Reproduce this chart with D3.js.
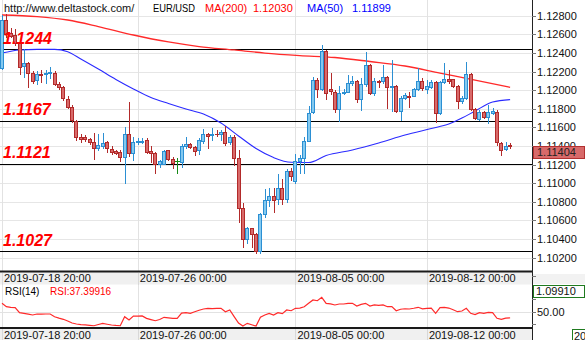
<!DOCTYPE html>
<html>
<head>
<meta charset="utf-8">
<script src="https://cdn.jsdelivr.net/npm/d3@7"></script>
<style>
  html, body { margin: 0; padding: 0; background: #fff; }
  svg { display: block; }
  text { font-family: "Liberation Sans", Arial, sans-serif; }
</style>
</head>
<body>
<svg id="chart" width="585" height="340"></svg>
<script>
// EUR/USD, 4-hour candles
const opens = [
  1.12238,1.12754,1.12614,1.12593,1.12507,1.12260,1.12292,1.12184,1.12109,1.12179,
  1.12179,1.12184,1.12184,1.12066,1.12029,1.11910,1.11824,1.11669,1.11502,1.11497,
  1.11475,1.11438,1.11379,1.11400,1.11443,1.11373,1.11346,1.11336,1.11287,1.11534,
  1.11322,1.11443,1.11448,1.11465,1.11346,1.11322,1.11212,1.11212,1.11352,1.11257,
  1.11234,1.11223,1.11395,1.11418,1.11393,1.11357,1.11457,1.11529,1.11518,1.11534,
  1.11524,1.11547,1.11438,1.11500,1.11268,1.10731,1.10398,1.10516,1.10451,1.10275,
  1.10670,1.10820,1.10868,1.10831,1.10946,1.10831,1.11132,1.11027,1.11239,1.11268,
  1.11457,1.11762,1.12109,1.12009,1.12421,1.12018,1.11984,1.11798,1.11969,1.11984,
  1.12080,1.12102,1.11902,1.12063,1.12270,1.11966,1.12102,1.12098,1.12141,1.12039,
  1.12045,1.11776,1.11913,1.11940,1.11940,1.12009,1.12102,1.12009,1.12037,1.12084,
  1.11751,1.12084,1.12117,1.12117,1.12048,1.11889,1.11913,1.12174,1.11794,1.11695,
  1.11765,1.11708,1.11760,1.11765,1.11432,1.11365,1.11410
];
const highs = [
  1.12808,1.12818,1.12668,1.12657,1.12528,1.12442,1.12303,1.12206,1.12206,1.12217,
  1.12217,1.12249,1.12201,1.12088,1.12045,1.11937,1.11841,1.11679,1.11529,1.11518,
  1.11491,1.11545,1.11529,1.11545,1.11459,1.11395,1.11362,1.11352,1.11604,1.11870,
  1.11502,1.11486,1.11491,1.11486,1.11400,1.11341,1.11255,1.11362,1.11362,1.11287,
  1.11271,1.11422,1.11502,1.11432,1.11405,1.11491,1.11588,1.11545,1.11599,1.11572,
  1.11567,1.11618,1.11518,1.11518,1.11362,1.10784,1.10533,1.10524,1.10465,1.10683,
  1.10941,1.10946,1.10954,1.11099,1.11046,1.11153,1.11160,1.11314,1.11303,1.11500,
  1.11830,1.12141,1.12131,1.12485,1.12432,1.12181,1.12002,1.12048,1.12013,1.12163,
  1.12152,1.12109,1.12131,1.12407,1.12281,1.12130,1.12109,1.12270,1.12152,1.12324,
  1.12056,1.11937,1.11969,1.11977,1.12023,1.12236,1.12131,1.12109,1.12109,1.12098,
  1.12104,1.12297,1.12222,1.12120,1.12056,1.11937,1.12303,1.12184,1.11808,1.11787,
  1.11776,1.11841,1.11808,1.11787,1.11443,1.11448,1.11429
];
const lows = [
  1.12227,1.12571,1.12571,1.12485,1.12174,1.12141,1.12034,1.12077,1.12066,1.12088,
  1.12077,1.12131,1.12056,1.12013,1.11894,1.11808,1.11663,1.11465,1.11448,1.11459,
  1.11427,1.11260,1.11362,1.11384,1.11336,1.11319,1.11319,1.11244,1.11003,1.11298,
  1.11250,1.11422,1.11432,1.11325,1.11228,1.11110,1.11180,1.11207,1.11250,1.11164,
  1.11113,1.11174,1.11384,1.11379,1.11303,1.11314,1.11432,1.11379,1.11470,1.11508,
  1.11465,1.11411,1.11422,1.11191,1.10587,1.10315,1.10353,1.10310,1.10251,1.10254,
  1.10637,1.10755,1.10691,1.10777,1.10777,1.10802,1.11035,1.11006,1.11113,1.11107,
  1.11454,1.11755,1.11930,1.12002,1.11905,1.11956,1.11769,1.11669,1.11959,1.11977,
  1.12056,1.11876,1.11787,1.12048,1.11956,1.11948,1.12034,1.12080,1.11805,1.11776,
  1.11765,1.11679,1.11905,1.11822,1.11937,1.12002,1.12002,1.11966,1.12023,1.11661,
  1.11744,1.12077,1.12077,1.12039,1.11805,1.11862,1.11905,1.11787,1.11690,1.11679,
  1.11701,1.11644,1.11744,1.11411,1.11303,1.11357,1.11379
];
const closes = [
  1.12754,1.12603,1.12587,1.12507,1.12249,1.12292,1.12184,1.12098,1.12174,1.12168,
  1.12184,1.12195,1.12066,1.12029,1.11916,1.11824,1.11679,1.11497,1.11475,1.11475,
  1.11443,1.11379,1.11411,1.11436,1.11379,1.11341,1.11330,1.11287,1.11534,1.11322,
  1.11446,1.11454,1.11459,1.11341,1.11322,1.11207,1.11239,1.11346,1.11257,1.11221,
  1.11234,1.11400,1.11418,1.11393,1.11350,1.11465,1.11529,1.11513,1.11529,1.11524,
  1.11547,1.11436,1.11500,1.11268,1.10731,1.10398,1.10516,1.10451,1.10275,1.10670,
  1.10820,1.10868,1.10820,1.10946,1.10831,1.11132,1.11081,1.11242,1.11268,1.11457,
  1.11758,1.12109,1.12009,1.12421,1.11966,1.11991,1.11798,1.11966,1.11980,1.12080,
  1.12102,1.11902,1.12063,1.12270,1.11966,1.12098,1.12091,1.12141,1.12037,1.12045,
  1.11776,1.11913,1.11948,1.11930,1.12009,1.12102,1.12020,1.12045,1.12084,1.11751,
  1.12084,1.12117,1.12104,1.12050,1.11887,1.11913,1.12174,1.11794,1.11706,1.11769,
  1.11708,1.11762,1.11771,1.11438,1.11362,1.11405,1.11404
];

// RSI(14), one value per candle
const rsiValues = [
  67.1,60.2,59.0,58.2,48.0,46.7,45.0,43.3,45.3,45.0,
  45.3,45.3,39.8,37.0,34.5,31.0,27.0,24.9,23.5,23.0,
  22.2,21.4,24.0,26.3,24.5,22.9,22.0,21.4,39.8,33.1,
  41.2,41.2,41.5,36.5,34.0,31.6,34.0,38.6,37.5,36.5,
  36.5,47.0,48.0,46.7,50.0,53.0,55.5,56.9,56.5,56.9,
  56.9,50.0,53.5,40.0,27.0,21.0,26.3,23.5,20.8,38.6,
  43.3,46.7,43.3,48.0,46.0,53.5,52.0,56.9,57.5,60.2,
  67.1,73.9,72.4,79.4,67.1,66.0,63.7,65.7,65.7,67.1,
  67.1,61.6,65.0,67.1,61.6,64.0,63.0,64.0,60.2,60.5,
  52.0,55.0,56.0,55.5,57.0,59.0,56.0,56.9,57.5,46.7,
  58.2,59.0,57.5,54.0,50.0,51.5,56.9,46.7,44.0,48.0,
  46.7,48.5,48.0,36.5,34.5,37.0,37.39916
];

// moving averages, [candle index, value]
const ma200Points = [
  [0,1.12808],[8,1.12791],[15,1.12754],[22,1.12684],[30,1.12593],[38,1.12518],
  [45,1.12469],[53,1.12432],[60,1.12399],[68,1.12372],[76,1.12351],[84,1.12308],
  [92,1.12260],[100,1.12184],[108,1.12109],[116,1.12030]
];
const ma50Points = [
  [0,1.12399],[4,1.12432],[8,1.12439],[12,1.12439],[15,1.12413],[18,1.12335],
  [22,1.12227],[26,1.12115],[30,1.12013],[34,1.11921],[38,1.11857],[42,1.11798],
  [46,1.11744],[50,1.11647],[54,1.11508],[58,1.11373],[62,1.11276],[66,1.11225],
  [70,1.11223],[74,1.11298],[80,1.11357],[86,1.11432],[92,1.11518],[98,1.11588],
  [102,1.11636],[105,1.11700],[108,1.11776],[112,1.11873],[116,1.11899]
];

const levelLines = [1.1244, 1.1167, 1.1121, 1.1027];
const priceTicks = [1.128,1.126,1.124,1.122,1.120,1.118,1.116,1.114,1.112,1.110,1.108,1.106,1.104,1.102];
const dateTickIndex = [0, 31, 67, 97];
const dateTickLabels = ["2019-07-18 20:00", "2019-07-26 00:00", "2019-08-05 00:00", "2019-08-12 00:00"];
const rsiTicks = [25, 50, 75];
const rsiLabelTicks = [50];
const symbol = "EUR/USD";
const siteUrl = "http://www.deltastock.com/";
const panelLowPrice = 1.09910;

const svg = d3.select("#chart");
const plotRight = 532;
const mainBottom = 284.7;

const x = d3.scaleLinear().domain([0, opens.length - 1]).range([2, 510.1]);
const y = d3.scaleLinear().domain([panelLowPrice, 1.12969]).range([mainBottom, 0]);
const yR = d3.scaleLinear().domain([17.8, 104.5]).range([327.5, 285]);

const fmt5 = d3.format(".5f");
const fmt4 = d3.format(".4f");
const snap = v => Math.round(v) + 0.5;

svg.append("rect").attr("width", 585).attr("height", 340).attr("fill", "#fff");

// grid
const grid = svg.append("g").attr("shape-rendering", "crispEdges");
grid.selectAll("line.h").data(priceTicks).join("line")
  .attr("x1", 0).attr("x2", plotRight)
  .attr("y1", d => snap(y(d))).attr("y2", d => snap(y(d)))
  .attr("stroke", "#e6e6e6");
grid.selectAll("line.v").data(dateTickIndex).join("line")
  .attr("x1", d => snap(x(d))).attr("x2", d => snap(x(d)))
  .attr("y1", 0).attr("y2", 340)
  .attr("stroke", "#e2e2e2");

// support / resistance levels
svg.append("g").attr("shape-rendering", "crispEdges")
  .selectAll("line").data(levelLines).join("line")
  .attr("x1", 0).attr("x2", plotRight)
  .attr("y1", d => snap(y(d))).attr("y2", d => snap(y(d)))
  .attr("stroke", "#000").attr("stroke-width", 1.3);

// moving averages
const maLine = d3.line().x(d => x(d[0])).y(d => y(d[1])).curve(d3.curveMonotoneX);
svg.append("path").attr("d", maLine(ma200Points))
  .attr("fill", "none").attr("stroke", "#ff2a2a").attr("stroke-width", 1.3);
svg.append("path").attr("d", maLine(ma50Points))
  .attr("fill", "none").attr("stroke", "#2a2aff").attr("stroke-width", 1.1);

// candles
const bull = { fill: "#84c9ef", stroke: "#2b8fd3" };
const bear = { fill: "#d86a6a", stroke: "#b22a2a" };
const dojiColor = "#168a16";
const candles = opens.map((o, i) => ({ i, o, h: highs[i], l: lows[i], c: closes[i] }));
const cg = svg.append("g").attr("shape-rendering", "crispEdges");
candles.forEach(d => {
  const cx = Math.round(x(d.i));
  const style = d.c > d.o ? bull : (d.c < d.o ? bear : null);
  const col = style ? style.stroke : dojiColor;
  cg.append("line")
    .attr("x1", cx + 0.5).attr("x2", cx + 0.5)
    .attr("y1", Math.round(y(d.h))).attr("y2", Math.round(y(d.l)) + 1)
    .attr("stroke", col);
  const top = Math.round(y(Math.max(d.o, d.c))) + 0.5;
  const bot = Math.round(y(Math.min(d.o, d.c))) + 0.5;
  if (!style || bot - top < 1) {
    cg.append("line")
      .attr("x1", cx - 2).attr("x2", cx + 3)
      .attr("y1", top).attr("y2", top)
      .attr("stroke", col);
  } else {
    cg.append("rect")
      .attr("x", cx - 1.5).attr("y", top)
      .attr("width", 3).attr("height", bot - top)
      .attr("fill", style.fill).attr("stroke", style.stroke);
  }
});

// level captions
svg.append("g").selectAll("text").data(levelLines).join("text")
  .attr("x", 3).attr("y", d => y(d) - 5.5)
  .attr("fill", "#ff0000")
  .attr("font-size", 16).attr("font-weight", "bold").attr("font-style", "italic")
  .text(d => fmt4(d));

// date bands (below price panel and below RSI panel)
function dateBand(top) {
  const g = svg.append("g");
  g.append("rect").attr("x", 0).attr("y", top).attr("width", plotRight).attr("height", 13)
    .attr("fill", "#f0f0f0");
  g.append("line").attr("x1", 0).attr("x2", plotRight).attr("y1", top).attr("y2", top)
    .attr("stroke", "#1a1a1a").attr("stroke-width", 2);
  g.selectAll("line.t").data(dateTickIndex).join("line")
    .attr("x1", d => snap(x(d))).attr("x2", d => snap(x(d)))
    .attr("y1", top + 1).attr("y2", top + 13)
    .attr("stroke", "#d8d8d8").attr("shape-rendering", "crispEdges");
  g.selectAll("text").data(dateTickIndex).join("text")
    .attr("x", d => x(d) + 2).attr("y", top + 10.5)
    .attr("font-size", 11).attr("fill", "#101010")
    .text((d, k) => dateTickLabels[k]);
}
dateBand(271.5);

// RSI panel
const rg = svg.append("g");
rg.append("line").attr("x1", 0).attr("x2", plotRight)
  .attr("y1", snap(yR(50))).attr("y2", snap(yR(50)))
  .attr("stroke", "#e2e2e2").attr("shape-rendering", "crispEdges");
rg.append("path")
  .attr("d", d3.line().x((d, i) => x(i)).y(d => yR(d))(rsiValues))
  .attr("fill", "none").attr("stroke", "#ff2a2a").attr("stroke-width", 1.2);
rg.append("text").attr("x", 5).attr("y", 295).attr("font-size", 10).attr("fill", "#000")
  .text("RSI(14)");
rg.append("text").attr("x", 50).attr("y", 295).attr("font-size", 10).attr("fill", "#ff0000")
  .text("RSI:" + d3.format(".5f")(rsiValues[rsiValues.length - 1]));

dateBand(328);

// right-hand price axis
const ax = svg.append("g");
ax.append("rect").attr("x", plotRight).attr("y", 0).attr("width", 585 - plotRight).attr("height", 340)
  .attr("fill", "#fff");
ax.append("rect").attr("x", plotRight).attr("y", 274).attr("width", 585 - plotRight).attr("height", 10)
  .attr("fill", "#f2f2f2");
ax.append("line").attr("x1", plotRight + 0.5).attr("x2", plotRight + 0.5).attr("y1", 0).attr("y2", 340)
  .attr("stroke", "#222").attr("shape-rendering", "crispEdges");
ax.selectAll("line.pt").data(priceTicks.concat([1.100])).join("line")
  .attr("x1", plotRight).attr("x2", plotRight + 4)
  .attr("y1", d => snap(y(d))).attr("y2", d => snap(y(d)))
  .attr("stroke", "#777").attr("shape-rendering", "crispEdges");
ax.selectAll("text.pt").data(priceTicks).join("text")
  .attr("x", plotRight + 5).attr("y", d => y(d) + 4)
  .attr("font-size", 11).attr("fill", "#111")
  .text(d => fmt5(d));
ax.selectAll("line.rt").data(rsiTicks).join("line")
  .attr("x1", plotRight).attr("x2", plotRight + 4)
  .attr("y1", d => snap(yR(d))).attr("y2", d => snap(yR(d)))
  .attr("stroke", "#777").attr("shape-rendering", "crispEdges");
ax.selectAll("text.rt").data(rsiLabelTicks).join("text")
  .attr("x", plotRight + 5).attr("y", d => yR(d) + 4)
  .attr("font-size", 11).attr("fill", "#111")
  .text(d => d3.format(".2f")(d));

// last price marker
const last = closes[closes.length - 1];
ax.append("rect").attr("x", plotRight + 1.5).attr("y", snap(y(last))).attr("width", 51).attr("height", 12)
  .attr("fill", "#d86a6a").attr("stroke", "#b23030").attr("shape-rendering", "crispEdges");
ax.append("text").attr("x", plotRight + 5).attr("y", y(last) + 10.5)
  .attr("font-size", 11).attr("fill", "#222").text(fmt5(last));

// price at the bottom edge of the price panel
ax.append("rect").attr("x", plotRight + 1.5).attr("y", snap(y(panelLowPrice))).attr("width", 51).attr("height", 12)
  .attr("fill", "#fff").attr("stroke", "#1f7a1f").attr("shape-rendering", "crispEdges");
ax.append("text").attr("x", plotRight + 4).attr("y", y(panelLowPrice) + 10.5)
  .attr("font-size", 11).attr("fill", "#111").text(fmt5(panelLowPrice));

// date marker on the time axis
ax.append("rect").attr("x", 572.5).attr("y", 329.5).attr("width", 14).attr("height", 12)
  .attr("fill", "#fff").attr("stroke", "#1f7a1f").attr("shape-rendering", "crispEdges");
ax.append("text").attr("x", 574).attr("y", 339.5).attr("font-size", 11).attr("fill", "#111")
  .text(dateTickLabels[0].slice(0, 2));

// header
const hd = svg.append("g").attr("font-size", 11);
hd.append("text").attr("x", 4).attr("y", 12).attr("fill", "#111").text(siteUrl);
hd.append("text").attr("x", 153).attr("y", 12).attr("fill", "#000")
  .attr("textLength", 42).attr("lengthAdjust", "spacingAndGlyphs").text(symbol);
hd.append("text").attr("x", 205).attr("y", 12).attr("fill", "#ff0000").text("MA(200)");
hd.append("text").attr("x", 253).attr("y", 12).attr("fill", "#ff0000")
  .text(fmt5(ma200Points[ma200Points.length - 1][1]));
hd.append("text").attr("x", 307).attr("y", 12).attr("fill", "#0000ff").text("MA(50)");
hd.append("text").attr("x", 352).attr("y", 12).attr("fill", "#0000ff")
  .text(fmt5(ma50Points[ma50Points.length - 1][1]));
</script>
</body>
</html>
